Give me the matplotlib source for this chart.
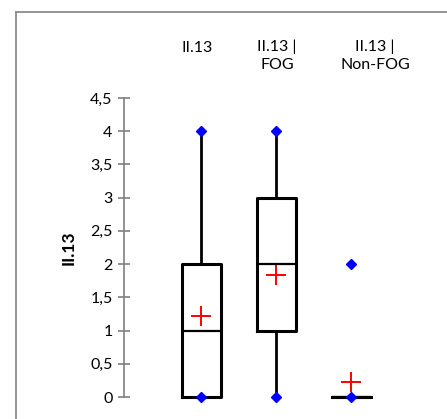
import matplotlib.pyplot as plt
from matplotlib.ticker import FuncFormatter
from matplotlib.lines import Line2D

plt.rcParams['font.family'] = ['Lato', 'DejaVu Sans']

# data
labels = ['II.13', 'II.13 |\nFOG', 'II.13 |\nNon-FOG']
mins = [0, 0, 0]
q1s = [0, 1, 0]
medians = [1, 2, 0]
q3s = [2, 3, 0]
whis_hi = [4, 4, 0]
maxs = [4, 4, 2]
means = [1.22, 1.83, 0.22]

W, H = 447, 419
fig = plt.figure(figsize=(W / 100, H / 100), dpi=100)

# pixel layout: axis line at x=124, boxes at 201/276/351, y 0 at 397, 4.5 at 98
ax_left, ax_bottom, ax_top = 124, 397, 98
px_per_unit = 75
ax = fig.add_axes([ax_left / W, (H - ax_bottom) / H, (W - ax_left) / W, (ax_bottom - ax_top) / H])
ax.set_xlim(1 - (201 - ax_left) / px_per_unit, 3 + (W - 351) / px_per_unit)
ax.set_ylim(0, 4.5)

positions = [1, 2, 3]
stats = []
for i in range(len(labels)):
    stats.append(dict(med=medians[i], q1=q1s[i], q3=q3s[i], whislo=mins[i],
                      whishi=whis_hi[i], mean=means[i], fliers=[]))

ax.bxp(stats, positions=positions, widths=0.52, showcaps=False, showmeans=True,
       showfliers=False, manage_ticks=False,
       boxprops=dict(color='black', linewidth=2.2),
       medianprops=dict(color='black', linewidth=1.6),
       whiskerprops=dict(color='black', linewidth=2),
       meanprops=dict(marker='+', markeredgecolor='red', markersize=14,
                      markeredgewidth=1.4))
for art in ax.lines:
    art.set_clip_on(False)

ax.plot(positions, mins, 'D', color='blue', markersize=5, clip_on=False, zorder=5)
ax.plot(positions, maxs, 'D', color='blue', markersize=5, clip_on=False, zorder=5)

for s in ['top', 'right', 'bottom']:
    ax.spines[s].set_visible(False)
ax.spines['left'].set_color('#808080')
ax.spines['left'].set_linewidth(1.2)
ax.set_xticks([])
ax.set_yticks([0, 0.5, 1, 1.5, 2, 2.5, 3, 3.5, 4, 4.5])
ax.yaxis.set_major_formatter(FuncFormatter(lambda v, p: ('%g' % v).replace('.', ',')))
ax.tick_params(axis='y', direction='inout', length=8.5, width=1.2, color='#808080',
               labelsize=11.5, pad=4)

ax.set_ylabel('II.13', fontsize=12.5, fontweight='bold', labelpad=10)

# category labels above the plot (placed in pixels like the original)
label_x_px = [197, 277, 375]
for x_px, lab in zip(label_x_px, labels):
    n = lab.count('\n') + 1
    y_px = 48 + 8 * (n - 1)
    fig.text(x_px / W, 1 - y_px / H, lab, fontsize=11.5, ha='center', va='center',
             linespacing=1.35)

# gray frame (left and top edges visible)
fig.add_artist(Line2D([16 / W, 16 / W], [0, 1 - 12 / H], color='#8c8c8c', lw=1.3))
fig.add_artist(Line2D([16 / W, 1], [1 - 12 / H, 1 - 12 / H], color='#8c8c8c', lw=1.3))

fig.savefig('out.png', dpi=100)
